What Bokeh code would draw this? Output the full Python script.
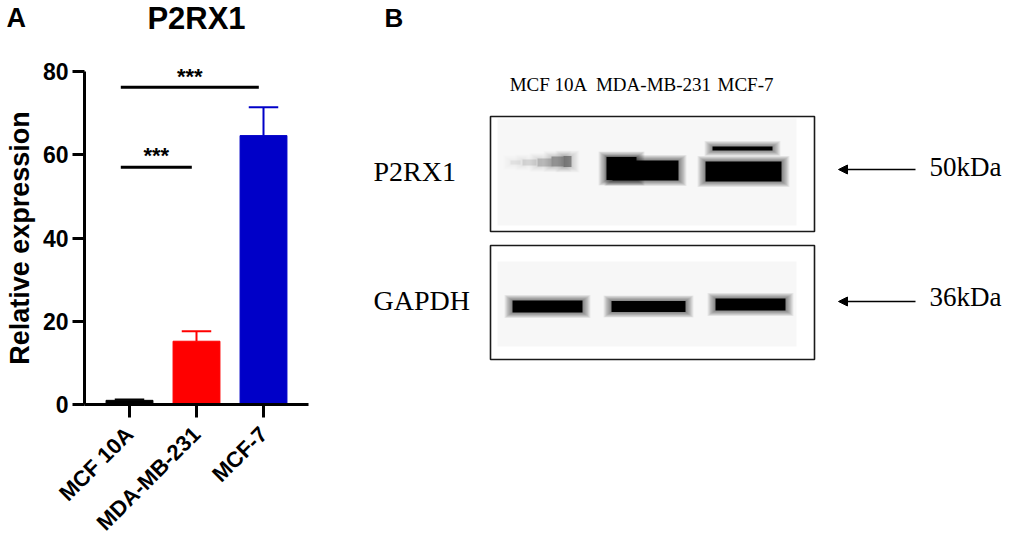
import math
from bokeh.plotting import figure
from bokeh.layouts import row
from bokeh.models import Range1d, FixedTicker, LinearAxis, Arrow, NormalHead
from bokeh.core.properties import value
from bokeh.embed import file_html
from bokeh.resources import INLINE

# ---------------- data ----------------
categories = ["MCF 10A", "MDA-MB-231", "MCF-7"]
means = [1.0, 15.2, 64.6]
errors = [0.2, 2.4, 6.8]
bar_colors = ["#000000", "#FF0000", "#0000C8"]
y_ticks = [0, 20, 40, 60, 80]
comparisons = [("MCF 10A", "MDA-MB-231"), ("MCF 10A", "MCF-7")]
comparison_heights = [57.0, 76.2]
comparison_marks = ["***", "***"]

# western blot (panel B)
lanes = ["MCF 10A", "MDA-MB-231", "MCF-7"]
blot_names = ["P2RX1", "GAPDH"]
blot_sizes = ["50kDa", "36kDa"]
p2rx1_signal = [0.35, 1.0, 1.0]
gapdh_signal = [1.0, 1.0, 1.0]

SANS = value("Liberation Sans")
SERIF = value("Liberation Serif")
ORG = 1            # screen position of the figures' top-left corner
K = 0.3            # baseline correction (em)

# ---------------- panel A ----------------
WA, H = 360, 539
PX_X = 67.0        # pixels per category step
PX_Y = 4.1625      # pixels per unit of expression
xs = [i + 1 for i in range(len(categories))]
X0 = 1 - (130 - ORG) / PX_X
Y0 = -(ORG + H - 405) / PX_Y

def dx(px):
    return X0 + (px - ORG) / PX_X

def dy(py):
    return (405 - py) / PX_Y

def tbA(base, fs):
    return dy(base - K * fs)

pA = figure(width=WA, height=H, x_range=Range1d(X0, X0 + WA / PX_X),
            y_range=Range1d(Y0, Y0 + H / PX_Y), output_backend="svg",
            toolbar_location=None, min_border=0, x_axis_type=None, y_axis_type=None)
pA.outline_line_color = None
pA.background_fill_color = "white"
pA.border_fill_color = "white"

pA.vbar(x=xs, top=means, width=0.7, fill_color=bar_colors, line_color=bar_colors)
tops = [m + e for m, e in zip(means, errors)]
pA.segment(x0=xs, y0=means, x1=xs, y1=tops, line_color=bar_colors, line_width=2)
pA.segment(x0=[x - 0.22 for x in xs], y0=tops, x1=[x + 0.22 for x in xs], y1=tops,
           line_color=bar_colors, line_width=2)

sx0, sx1, sy, smid = [], [], [], []
for (a, b), h in zip(comparisons, comparison_heights):
    i = xs[categories.index(a)]
    j = xs[categories.index(b)]
    sx0.append(i - 0.13)
    sx1.append(j - 0.07)
    sy.append(h)
    smid.append((i - 0.13 + j - 0.07) / 2)
pA.segment(x0=sx0, y0=sy, x1=sx1, y1=sy, line_color="black", line_width=3)
pA.text(x=smid, y=[h + 2.7 for h in sy], text=comparison_marks, text_font=SANS,
        text_font_size="22px", text_font_style="bold", text_align="center",
        text_baseline="alphabetic", text_color="black")

xaxis = LinearAxis(fixed_location=0, ticker=FixedTicker(ticks=xs),
                   bounds=(dx(85), dx(309)))
yaxis = LinearAxis(fixed_location=dx(85), ticker=FixedTicker(ticks=y_ticks), bounds=(0, 80))
for ax in (xaxis, yaxis):
    ax.axis_line_width = 3
    ax.axis_line_color = "black"
    ax.major_tick_line_width = 3
    ax.major_tick_line_color = "black"
    ax.major_tick_in = 0
    ax.minor_tick_line_color = None
    ax.major_label_text_font = "Liberation Sans"
    ax.major_label_text_font_style = "bold"
    ax.major_label_text_color = "black"

yaxis.major_label_text_font_size = "23px"
yaxis.major_tick_out = 12
yaxis.major_label_standoff = 4
yaxis.axis_label = "Relative expression"
yaxis.axis_label_text_font = "Liberation Sans"
yaxis.axis_label_text_font_style = "bold"
yaxis.axis_label_text_font_size = "27px"
yaxis.axis_label_text_color = "black"
yaxis.axis_label_standoff = 5

xaxis.major_label_text_font_size = "22px"
xaxis.major_label_overrides = {x: c for x, c in zip(xs, categories)}
xaxis.major_label_orientation = math.pi / 4
xaxis.major_tick_out = 13
xaxis.major_label_standoff = 13

pA.add_layout(xaxis, "below")
pA.add_layout(yaxis, "left")

pA.text(x=[dx(7)], y=[tbA(27, 27)], text=["A"], text_font=SANS, text_font_size="27px",
        text_font_style="bold", text_baseline="alphabetic", text_color="black")
pA.text(x=[dx(197)], y=[tbA(28, 31)], text=["P2RX1"], text_font=SANS, text_font_size="31px",
        text_font_style="bold", text_align="center", text_baseline="alphabetic",
        text_color="black")

# ---------------- panel B ----------------
WB = 1004 - WA
XB0 = ORG + WA
pB = figure(width=WB, height=H, x_range=Range1d(XB0, XB0 + WB), y_range=Range1d(ORG + H, ORG),
            output_backend="svg", toolbar_location=None, min_border=0,
            x_axis_type=None, y_axis_type=None)
pB.outline_line_color = None
pB.xgrid.visible = False
pB.ygrid.visible = False

def tbB(base, fs):
    return base - K * fs

# membrane tint and frames
pB.quad(left=[498, 498], right=[797, 797], top=[119, 262], bottom=[226, 347],
        fill_color="#F7F7F7", line_color=None)
pB.quad(left=[491, 491], right=[815, 815], top=[117, 246], bottom=[232, 360],
        fill_color=None, line_color="#1a1a1a", line_width=1.6)

def draw_bands(p, pieces, signal):
    xc = [q[1] for q in pieces]
    yc = [q[2] for q in pieces]
    w = [q[3] for q in pieces]
    h = [q[4] for q in pieces]
    s = [signal[q[0]] * q[5] for q in pieces]
    for k in range(10, 0, -1):
        p.rect(x=xc, y=yc, width=[a + 1.6 * k for a in w], height=[b + 1.1 * k for b in h],
               fill_color="black", fill_alpha=[0.055 * v for v in s], line_color=None)
    p.rect(x=xc, y=yc, width=w, height=h, fill_color="black",
           fill_alpha=[min(1.0, 1.15 * v) for v in s], line_color=None)

# (lane, x centre, y centre, width, height, relative weight)
p2rx1_pieces = [
    (0, 516, 163, 10, 4, 0.12), (0, 530, 163, 14, 6, 0.25), (0, 545, 163, 14, 8, 0.45),
    (0, 558, 162, 12, 10, 0.7), (0, 568, 162, 8, 11, 0.9),
    (1, 646, 171, 66, 20, 1.0), (1, 622, 169, 30, 23, 1.0),
    (2, 744, 172, 76, 20, 1.0), (2, 743, 149, 60, 4, 0.95),
]
gapdh_pieces = [
    (0, 548, 307, 70, 12, 1.0), (1, 649, 307, 74, 11, 1.0), (2, 751, 305, 70, 12, 1.0),
]
draw_bands(pB, p2rx1_pieces, p2rx1_signal)
draw_bands(pB, gapdh_pieces, gapdh_signal)

pB.text(x=[549, 654, 746], y=[tbB(91, 19)] * 3, text=lanes, text_font=SERIF,
        text_font_size="19px", text_align="center", text_baseline="alphabetic",
        text_color="black")
pB.text(x=[374, 374], y=[tbB(180, 28), tbB(309, 28)], text=blot_names, text_font=SERIF,
        text_font_size="28px", text_align="left", text_baseline="alphabetic",
        text_color="black")
pB.text(x=[930, 930], y=[tbB(176, 27), tbB(306, 27)], text=blot_sizes, text_font=SERIF,
        text_font_size="27px", text_align="left", text_baseline="alphabetic",
        text_color="black")
for yy in (170, 302):
    pB.add_layout(Arrow(end=NormalHead(size=9, fill_color="black", line_color="black"),
                        x_start=916, y_start=yy, x_end=839, y_end=yy,
                        line_width=1.5, line_color="black"))
pB.text(x=[385], y=[tbB(26, 26)], text=["B"], text_font=SANS, text_font_size="26px",
        text_font_style="bold", text_baseline="alphabetic", text_color="black")

layout = row(pA, pB)
open("out.html", "w").write(file_html(layout, INLINE))
